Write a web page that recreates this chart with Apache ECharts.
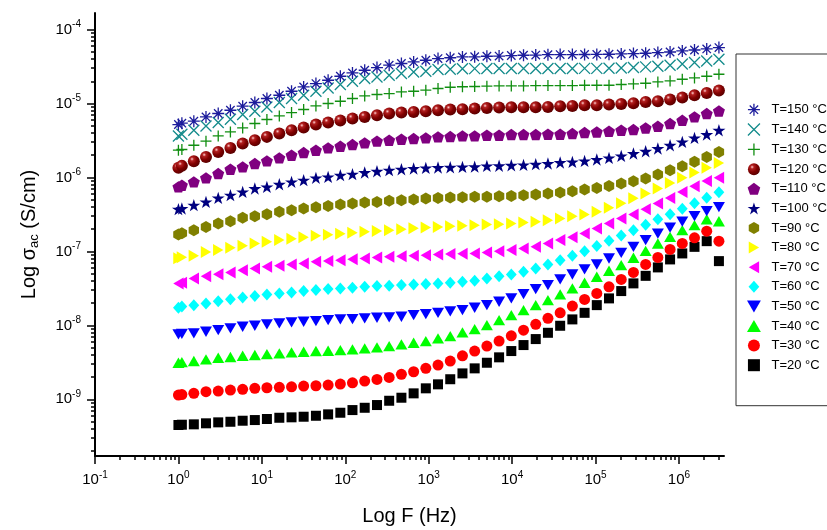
<!DOCTYPE html>
<html><head><meta charset="utf-8">
<script src="https://cdn.jsdelivr.net/npm/echarts@6/dist/echarts.min.js"></script>
<style>html,body{margin:0;padding:0;background:#fff}#c{width:827px;height:530px}</style>
</head><body><div id="c"></div><script>
// Frequencies (Hz)
const freqHz = [1, 1.1, 1.53, 2.14, 3.0, 4.2, 5.89, 8.24, 11.5, 16.2, 22.7, 31.7, 44.5, 62.3, 87.3, 122, 171, 240, 336, 471, 660, 924, 1294, 1813, 2540, 3558, 4985, 6982, 9781, 13703, 19196, 26891, 37670, 52772, 73927, 103560, 145080, 203240, 284710, 398850, 558740, 782710, 1096500, 1536000, 2152000, 3014000];
// log10 of sigma_ac (S/cm) for each temperature
const logSig150 = [-5.284,-5.266,-5.239,-5.181,-5.135,-5.091,-5.036,-4.986,-4.932,-4.888,-4.834,-4.776,-4.730,-4.685,-4.631,-4.586,-4.550,-4.514,-4.482,-4.459,-4.438,-4.415,-4.392,-4.381,-4.370,-4.368,-4.361,-4.358,-4.351,-4.347,-4.345,-4.340,-4.338,-4.338,-4.337,-4.336,-4.334,-4.330,-4.324,-4.320,-4.311,-4.303,-4.289,-4.276,-4.262,-4.243];
const logSig140 = [-5.438,-5.415,-5.361,-5.303,-5.257,-5.212,-5.149,-5.104,-5.046,-4.986,-4.932,-4.888,-4.834,-4.789,-4.743,-4.699,-4.662,-4.641,-4.618,-4.595,-4.573,-4.564,-4.541,-4.536,-4.530,-4.528,-4.527,-4.527,-4.526,-4.527,-4.527,-4.526,-4.527,-4.526,-4.525,-4.525,-4.523,-4.519,-4.514,-4.505,-4.496,-4.482,-4.465,-4.446,-4.424,-4.401];
const logSig130 = [-5.631,-5.622,-5.564,-5.509,-5.438,-5.384,-5.330,-5.270,-5.216,-5.168,-5.122,-5.081,-5.032,-5.000,-4.969,-4.932,-4.897,-4.878,-4.865,-4.843,-4.834,-4.820,-4.797,-4.780,-4.773,-4.770,-4.766,-4.762,-4.762,-4.762,-4.759,-4.757,-4.757,-4.757,-4.753,-4.753,-4.753,-4.743,-4.735,-4.726,-4.708,-4.695,-4.672,-4.654,-4.631,-4.604];
const logSig120 = [-5.870,-5.843,-5.780,-5.722,-5.654,-5.600,-5.541,-5.496,-5.451,-5.405,-5.361,-5.324,-5.284,-5.257,-5.230,-5.203,-5.181,-5.158,-5.135,-5.122,-5.114,-5.104,-5.091,-5.081,-5.077,-5.068,-5.059,-5.054,-5.050,-5.050,-5.050,-5.046,-5.036,-5.032,-5.023,-5.023,-5.014,-5.005,-4.996,-4.978,-4.969,-4.946,-4.919,-4.888,-4.857,-4.824];
const logSig110 = [-6.127,-6.104,-6.059,-6.005,-5.946,-5.888,-5.857,-5.811,-5.776,-5.735,-5.699,-5.662,-5.631,-5.600,-5.577,-5.554,-5.532,-5.509,-5.496,-5.482,-5.473,-5.465,-5.451,-5.446,-5.438,-5.438,-5.428,-5.428,-5.419,-5.419,-5.419,-5.415,-5.415,-5.405,-5.392,-5.384,-5.374,-5.361,-5.351,-5.330,-5.307,-5.270,-5.226,-5.181,-5.135,-5.100];
const logSig100 = [-6.428,-6.419,-6.374,-6.330,-6.276,-6.239,-6.195,-6.149,-6.127,-6.091,-6.059,-6.036,-6.005,-5.992,-5.969,-5.955,-5.932,-5.915,-5.901,-5.888,-5.878,-5.870,-5.865,-5.862,-5.857,-5.854,-5.843,-5.841,-5.834,-5.830,-5.820,-5.811,-5.797,-5.789,-5.776,-5.757,-5.735,-5.708,-5.676,-5.645,-5.608,-5.564,-5.519,-5.465,-5.419,-5.361];
const logSig90 = [-6.770,-6.753,-6.712,-6.668,-6.622,-6.591,-6.546,-6.523,-6.496,-6.465,-6.442,-6.419,-6.401,-6.384,-6.365,-6.351,-6.338,-6.330,-6.316,-6.307,-6.297,-6.284,-6.276,-6.270,-6.266,-6.262,-6.259,-6.253,-6.249,-6.239,-6.230,-6.216,-6.203,-6.185,-6.162,-6.141,-6.114,-6.081,-6.050,-6.014,-5.959,-5.901,-5.847,-5.789,-5.722,-5.654];
const logSig80 = [-7.091,-7.077,-7.057,-7.009,-6.982,-6.951,-6.922,-6.892,-6.868,-6.847,-6.827,-6.807,-6.789,-6.776,-6.762,-6.749,-6.735,-6.722,-6.712,-6.699,-6.685,-6.676,-6.668,-6.658,-6.654,-6.645,-6.635,-6.631,-6.622,-6.608,-6.600,-6.577,-6.554,-6.523,-6.500,-6.462,-6.408,-6.347,-6.280,-6.216,-6.149,-6.073,-6.005,-5.932,-5.870,-5.803];
const logSig70 = [-7.432,-7.422,-7.365,-7.334,-7.307,-7.284,-7.253,-7.230,-7.208,-7.195,-7.176,-7.162,-7.141,-7.131,-7.118,-7.104,-7.095,-7.081,-7.073,-7.064,-7.059,-7.050,-7.041,-7.036,-7.032,-7.027,-7.014,-6.996,-6.982,-6.959,-6.938,-6.892,-6.847,-6.807,-6.757,-6.689,-6.622,-6.554,-6.500,-6.428,-6.351,-6.276,-6.195,-6.118,-6.046,-6.005];
const logSig60 = [-7.762,-7.746,-7.726,-7.703,-7.672,-7.645,-7.622,-7.604,-7.581,-7.568,-7.554,-7.536,-7.523,-7.509,-7.500,-7.492,-7.478,-7.469,-7.465,-7.455,-7.446,-7.442,-7.432,-7.424,-7.411,-7.397,-7.365,-7.334,-7.311,-7.276,-7.230,-7.176,-7.118,-7.059,-6.996,-6.928,-6.857,-6.786,-6.712,-6.638,-6.564,-6.496,-6.422,-6.347,-6.273,-6.199];
const logSig50 = [-8.122,-8.115,-8.108,-8.086,-8.064,-8.041,-8.019,-8.005,-7.986,-7.973,-7.959,-7.951,-7.942,-7.928,-7.919,-7.915,-7.905,-7.897,-7.892,-7.884,-7.861,-7.847,-7.830,-7.811,-7.793,-7.762,-7.726,-7.681,-7.635,-7.577,-7.509,-7.455,-7.378,-7.311,-7.243,-7.176,-7.095,-7.019,-6.938,-6.847,-6.759,-6.678,-6.597,-6.523,-6.455,-6.401];
const logSig40 = [-8.505,-8.496,-8.482,-8.459,-8.438,-8.428,-8.411,-8.401,-8.388,-8.378,-8.365,-8.357,-8.347,-8.343,-8.334,-8.324,-8.311,-8.297,-8.280,-8.257,-8.235,-8.212,-8.176,-8.145,-8.095,-8.050,-7.996,-7.928,-7.861,-7.793,-7.726,-7.658,-7.581,-7.500,-7.424,-7.343,-7.262,-7.185,-7.086,-6.992,-6.892,-6.803,-6.712,-6.645,-6.564,-6.591];
const logSig30 = [-8.942,-8.935,-8.919,-8.897,-8.888,-8.874,-8.865,-8.851,-8.843,-8.838,-8.830,-8.820,-8.816,-8.807,-8.793,-8.776,-8.753,-8.730,-8.703,-8.662,-8.627,-8.581,-8.536,-8.482,-8.411,-8.347,-8.280,-8.212,-8.141,-8.064,-7.986,-7.905,-7.830,-7.739,-7.649,-7.568,-7.478,-7.378,-7.284,-7.176,-7.081,-6.973,-6.892,-6.816,-6.726,-6.861];
const logSig20 = [-9.347,-9.343,-9.338,-9.324,-9.311,-9.303,-9.289,-9.280,-9.266,-9.249,-9.243,-9.235,-9.222,-9.203,-9.181,-9.145,-9.114,-9.077,-9.019,-8.978,-8.919,-8.851,-8.797,-8.728,-8.649,-8.581,-8.505,-8.432,-8.347,-8.266,-8.185,-8.100,-8.005,-7.919,-7.830,-7.726,-7.635,-7.536,-7.432,-7.330,-7.216,-7.108,-7.027,-6.938,-6.861,-7.131];
// Tick labels (decade exponents)
const xTickExp = [-1, 0, 1, 2, 3, 4, 5, 6];
const yTickExp = [-9, -8, -7, -6, -5, -4];
const temps = ['T=150 °C','T=140 °C','T=130 °C','T=120 °C','T=110 °C','T=100 °C','T=90 °C','T=80 °C','T=70 °C','T=60 °C','T=50 °C','T=40 °C','T=30 °C','T=20 °C'];

const X_MIN = -1, X_MAX = 6.54, Y_MIN = -9.766, Y_MAX = -3.776;
function minorTicks(lo, hi) {
  const out = [];
  for (let d = Math.floor(lo) - 1; d <= Math.ceil(hi); d++) {
    for (let k = 2; k <= 9; k++) { const v = d + Math.log10(k); if (v > lo && v < hi) out.push(v); }
  }
  return out;
}
const FONT = '"Liberation Sans", Arial, sans-serif';
const expRich = {
  b: { fontSize: 15, lineHeight: 20, fontFamily: FONT, color: '#000' },
  s: { fontSize: 10, lineHeight: 8, verticalAlign: 'top', fontFamily: FONT, color: '#000' }
};
const expFmt = v => '{b|10}{s|' + Math.round(v) + '}';

const P = {
  star8: 'path://M10,0L10,20M0,10L20,10M3,3L17,17M3,17L17,3',
  cross: 'path://M0,0L20,20M0,20L20,0',
  plus: 'path://M10,0L10,20M0,10L20,10',
  pent: 'path://M10,0L19.51,6.91L15.88,18.09L4.12,18.09L0.49,6.91Z',
  star5: 'path://M10,0L12.245,6.91L19.51,6.91L13.633,11.18L15.88,18.09L10,13.82L4.12,18.09L6.367,11.18L0.49,6.91L7.755,6.91Z',
  hex: 'path://M10,0L18.66,5L18.66,15L10,20L1.34,15L1.34,5Z',
  triR: 'path://M0,0L17.3,10L0,20Z',
  triL: 'path://M17.3,0L0,10L17.3,20Z',
  triD: 'path://M0,0L20,0L10,17.3Z',
  triU: 'path://M10,0L20,17.3L0,17.3Z',
  diam: 'path://M9,0L18,10L9,20L0,10Z',
  square: 'path://M0,0L10,0L10,10L0,10Z'
};
const ball = { type: 'radial', x: 0.35, y: 0.32, r: 0.7, colorStops: [
  { offset: 0, color: '#ffd0d0' }, { offset: 0.22, color: '#b22020' }, { offset: 0.6, color: '#800000' }, { offset: 1, color: '#5a0000' }] };

const defs = [
  { name: temps[0], data: logSig150, symbol: P.star8, size: 12, stroke: '#1c1c9c' },
  { name: temps[1], data: logSig140, symbol: P.cross, size: 11, stroke: '#138b8b' },
  { name: temps[2], data: logSig130, symbol: P.plus, size: 11, stroke: '#118e11' },
  { name: temps[3], data: logSig120, symbol: 'circle', size: 12, fill: ball },
  { name: temps[4], data: logSig110, symbol: P.pent, size: 12, fill: '#800080' },
  { name: temps[5], data: logSig100, symbol: P.star5, size: 13, fill: '#000080' },
  { name: temps[6], data: logSig90, symbol: P.hex, size: 12, fill: '#808000' },
  { name: temps[7], data: logSig80, symbol: P.triR, size: 12, fill: '#ffff00' },
  { name: temps[8], data: logSig70, symbol: P.triL, size: 12, fill: '#ff00ff' },
  { name: temps[9], data: logSig60, symbol: P.diam, size: 12, fill: '#00ffff' },
  { name: temps[10], data: logSig50, symbol: P.triD, size: 12, fill: '#0000ff' },
  { name: temps[11], data: logSig40, symbol: P.triU, size: 12, fill: '#00ff00' },
  { name: temps[12], data: logSig30, symbol: 'circle', size: 11, fill: '#ff0000' },
  { name: temps[13], data: logSig20, symbol: P.square, size: 10, fill: '#000000' }
];

const series = defs.slice().reverse().map(d => ({
  type: 'scatter', name: d.name, xAxisIndex: 0, yAxisIndex: 0,
  data: freqHz.map((f, i) => [Math.log10(f), d.data[i]]),
  symbol: d.symbol, symbolSize: d.size, symbolKeepAspect: true, silent: true,
  itemStyle: d.stroke ? { color: 'rgba(0,0,0,0)', borderColor: d.stroke, borderWidth: 1.3, opacity: 1 }
                      : { color: d.fill, borderWidth: 0, opacity: 1 }
}));

const legendData = defs.map(d => ({
  name: d.name,
  itemStyle: d.stroke ? { color: 'rgba(0,0,0,0)', borderColor: d.stroke, borderWidth: 1.3 } : { color: d.fill, borderWidth: 0 }
}));

const axisBase = { type: 'value', splitLine: { show: false } };
const chart = echarts.init(document.getElementById('c'), null, { renderer: 'canvas' });
chart.setOption({
  animation: false,
  backgroundColor: '#fff',
  grid: { left: 95, right: 103, top: 13, bottom: 74, containLabel: false, outerBoundsMode: 'none' },
  xAxis: [
    Object.assign({}, axisBase, {
      min: X_MIN, max: X_MAX, position: 'bottom',
      axisLine: { show: true, onZero: false, lineStyle: { color: '#000', width: 2 } },
      axisTick: { show: true, customValues: xTickExp, length: 8, lineStyle: { color: '#000', width: 1.5 } },
      axisLabel: { show: true, customValues: xTickExp, formatter: expFmt, rich: expRich, margin: 14 },
      name: 'Log F (Hz)', nameLocation: 'middle', nameGap: 50,
      nameTextStyle: { fontSize: 20, color: '#000', fontFamily: FONT }
    }),
    Object.assign({}, axisBase, {
      min: X_MIN, max: X_MAX, position: 'bottom',
      axisLine: { show: false, onZero: false },
      axisTick: { show: true, customValues: minorTicks(X_MIN, X_MAX), length: 4, lineStyle: { color: '#000', width: 1.5 } },
      axisLabel: { show: false }
    })
  ],
  yAxis: [
    Object.assign({}, axisBase, {
      min: Y_MIN, max: Y_MAX, position: 'left',
      axisLine: { show: true, onZero: false, lineStyle: { color: '#000', width: 2 } },
      axisTick: { show: true, customValues: yTickExp, length: 8, lineStyle: { color: '#000', width: 1.5 } },
      axisLabel: { show: true, customValues: yTickExp, formatter: expFmt, rich: expRich, margin: 14 },
      name: '{a|Log σ}{b|ac}{a| (S/cm)}', nameLocation: 'middle', nameGap: 54,
      nameTextStyle: { color: '#000', rich: {
        a: { fontSize: 20, lineHeight: 24, fontFamily: FONT, color: '#000' },
        b: { fontSize: 13, lineHeight: 14, verticalAlign: 'bottom', fontFamily: FONT, color: '#000' } } }
    }),
    Object.assign({}, axisBase, {
      min: Y_MIN, max: Y_MAX, position: 'left',
      axisLine: { show: false, onZero: false },
      axisTick: { show: true, customValues: minorTicks(Y_MIN, Y_MAX), length: 4, lineStyle: { color: '#000', width: 1.5 } },
      axisLabel: { show: false }
    })
  ],
  legend: {
    orient: 'vertical', left: 736, top: 54,
    padding: [49, 20, 34, 11], itemGap: 6.6, itemWidth: 25, itemHeight: 12,
    borderColor: '#333', borderWidth: 1, backgroundColor: '#fff',
    selectedMode: false, symbolKeepAspect: true,
    textStyle: { fontSize: 13, lineHeight: 12, fontFamily: FONT, color: '#000' },
    data: legendData
  },
  series: series
});
</script></body></html>
